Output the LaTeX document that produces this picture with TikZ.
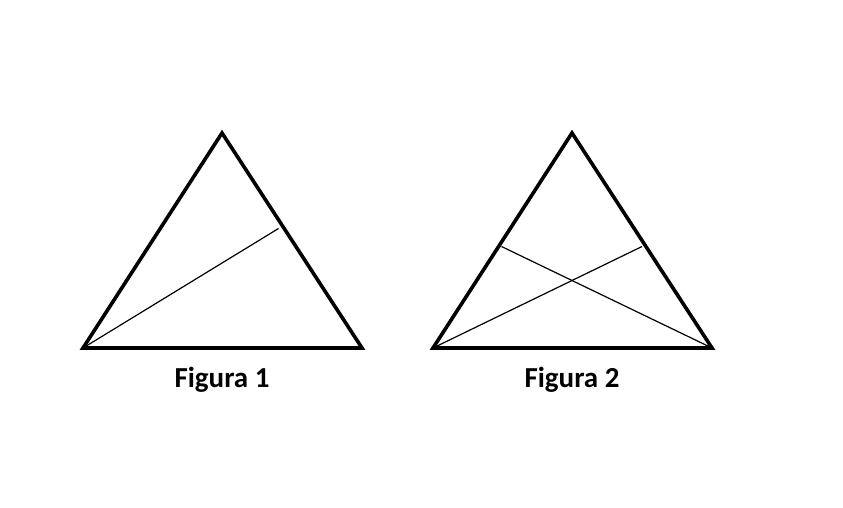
\documentclass[tikz,border=0pt]{standalone}
\usepackage{fontspec}
\setmainfont{Carlito}

\begin{document}
\begin{tikzpicture}[x=1pt,y=-1pt,
  triangle/.style={draw=black,line width=3.6pt},
  cevian/.style={draw=black,line width=1.2pt},
  caption/.style={font=\bfseries\fontsize{29}{33}\selectfont,text=black}]

  \useasboundingbox (0,0) rectangle (843,508);

  % Figura 1: one line from the left corner

  \begin{scope}
    \coordinate (left1) at (83,348);
    \coordinate (right1) at (362,348);
    \coordinate (top1) at (222,133);
    \coordinate (mid1) at (278.5,228.5);
    \draw [triangle] (left1) -- (right1) -- (top1) -- cycle;
    \draw [cevian] (left1) -- (mid1);
    \node [caption] at (222,380) (cap1) {Figura 1};
  \end{scope}

  % Figura 2: two crossing lines

  \begin{scope}
    \coordinate (left2) at (433,348);
    \coordinate (right2) at (712,348);
    \coordinate (top2) at (572,133);
    \coordinate (midl2) at (501.5,246.5);
    \coordinate (midr2) at (642,246.5);
    \draw [triangle] (left2) -- (right2) -- (top2) -- cycle;
    \draw [cevian] (left2) -- (midr2);
    \draw [cevian] (right2) -- (midl2);
    \node [caption] at (572,380) (cap2) {Figura 2};
  \end{scope}

\end{tikzpicture}
\end{document}
